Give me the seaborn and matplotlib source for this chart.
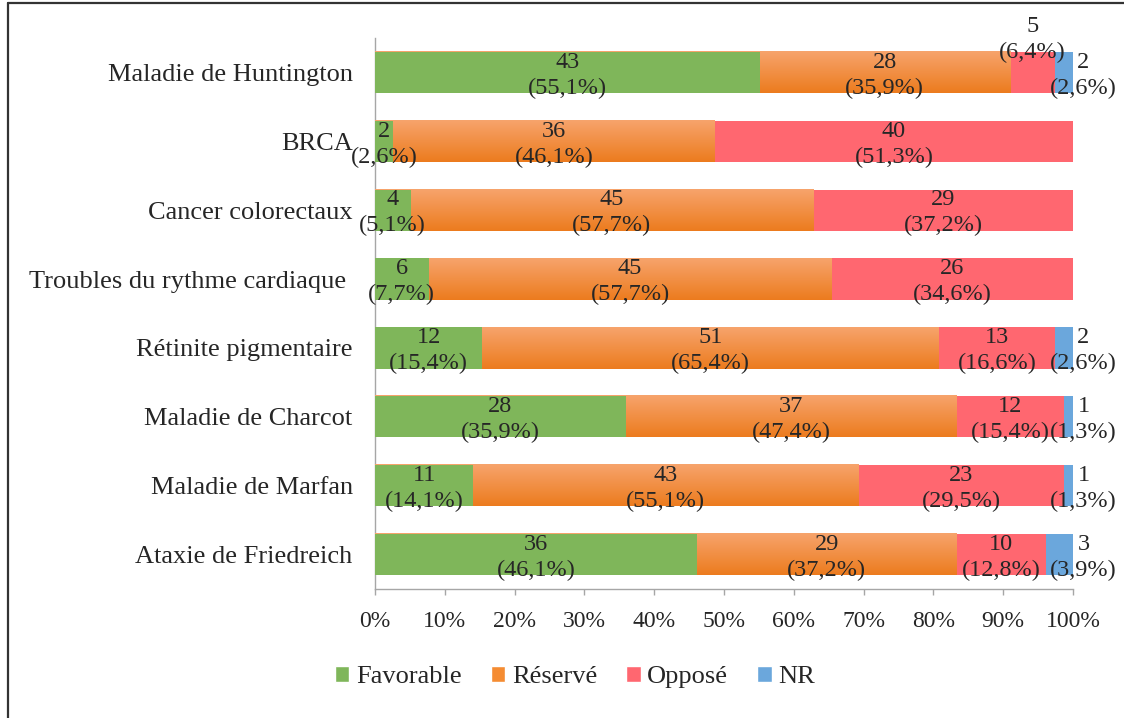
import matplotlib.pyplot as plt
import numpy as np
import pandas as pd
import seaborn as sns
from matplotlib.lines import Line2D
from matplotlib.patches import Patch
from matplotlib.colors import to_rgb

# data (top to bottom)
categories = ['Maladie de Huntington', 'BRCA', 'Cancer colorectaux',
              'Troubles du rythme cardiaque ', 'Rétinite pigmentaire',
              'Maladie de Charcot', 'Maladie de Marfan', 'Ataxie de Friedreich']
favorable = [43, 2, 4, 6, 12, 28, 11, 36]
reserve = [28, 36, 45, 45, 51, 37, 43, 29]
oppose = [5, 40, 29, 26, 13, 12, 23, 10]
nr = [2, 0, 0, 0, 2, 1, 1, 3]
favorable_pct = [55.1, 2.6, 5.1, 7.7, 15.4, 35.9, 14.1, 46.1]
reserve_pct = [35.9, 46.1, 57.7, 57.7, 65.4, 47.4, 55.1, 37.2]
oppose_pct = [6.4, 51.3, 37.2, 34.6, 16.6, 15.4, 29.5, 12.8]
nr_pct = [2.6, 0, 0, 0, 2.6, 1.3, 1.3, 3.9]

series = ['Favorable', 'Réservé', 'Opposé', 'NR']
colors = {'Favorable': '#7FB65A', 'Réservé': '#F58C32',
          'Opposé': '#FF6770', 'NR': '#6BA7DC'}
orange_top, orange_bottom = '#F7A46C', '#EC7B1E'

df = pd.DataFrame({'cat': categories, 'Favorable': favorable, 'Réservé': reserve,
                   'Opposé': oppose, 'NR': nr})
pct = pd.DataFrame({'Favorable': favorable_pct, 'Réservé': reserve_pct,
                    'Opposé': oppose_pct, 'NR': nr_pct})
# bar lengths follow the printed percentages (100 % stacked)
shares = pct[series].div(pct[series].sum(axis=1), axis=0) * 100
cum = shares.cumsum(axis=1)
cum['cat'] = categories

sns.set_theme(style='white')
plt.rcParams['font.family'] = ['Liberation Serif', 'DejaVu Serif']

fig, ax = plt.subplots(figsize=(11.24, 7.18), dpi=100)
fig.subplots_adjust(left=0.3336, right=0.9546, top=0.9471, bottom=0.1797)

# stacked bars: draw cumulative totals from the last series to the first
for i, s in reversed(list(enumerate(series))):
    n0 = len(ax.patches)
    sns.barplot(data=cum, x=s, y='cat', orient='h', color=colors[s], saturation=1,
                width=0.6, errorbar=None, linewidth=0, ax=ax, zorder=10 - 2 * i)
    if s == 'Réservé':
        grad = np.linspace(to_rgb(orange_top), to_rgb(orange_bottom), 64)[:, None, :]
        for p in ax.patches[n0:]:
            x0, y0, w, h = p.get_x(), p.get_y(), p.get_width(), p.get_height()
            ax.imshow(grad, extent=[x0, x0 + w, y0 + h, y0], origin='upper',
                      aspect='auto', zorder=10 - 2 * i + 0.5, interpolation='bilinear')

ax.set_xlim(0, 100)
ax.set_ylim(len(categories) - 0.5, -0.5)

# value labels
for r in range(len(categories)):
    for s in series:
        n = df.loc[r, s]
        if n == 0:
            continue
        x = cum.loc[r, s] - shares.loc[r, s] / 2
        y = r + 0.04
        if s == 'NR':
            x = 101.5
        if r == 0 and s == 'Opposé':
            y -= 0.52
        label = f"{n}\n({pct.loc[r, s]:.1f}%)".replace('.', ',')
        ax.text(x, y, label, ha='center', va='center', fontsize=17.5,
                linespacing=1.3, zorder=20, clip_on=False)

ax.set_xticks(range(0, 101, 10))
ax.set_xticklabels([f"{t}%" for t in range(0, 101, 10)])
ax.set_xlabel('')
ax.set_ylabel('')
ax.tick_params(axis='x', direction='out', bottom=True, length=4.5, width=1,
               color='#A6A6A6', pad=11, labelsize=17)
ax.tick_params(axis='y', left=False, length=0, pad=16, labelsize=19)
for side in ['top', 'right']:
    ax.spines[side].set_visible(False)
for side in ['left', 'bottom']:
    ax.spines[side].set_color('#A6A6A6')
    ax.spines[side].set_linewidth(1)

handles = [Patch(facecolor=colors[s], label=s) for s in series]
fig.legend(handles=handles, loc='center', bbox_to_anchor=(0.5116, 0.057), ncol=4,
           frameon=False, fontsize=19, handlelength=0.55, handleheight=0.55,
           handletextpad=0.25, columnspacing=1.1)

# outer frame (left and top edges)
fig.add_artist(Line2D([7.5 / 1124, 7.5 / 1124], [0, 1 - 3 / 718],
                      transform=fig.transFigure, color='#333333', lw=1.6))
fig.add_artist(Line2D([7.5 / 1124, 1], [1 - 3 / 718, 1 - 3 / 718],
                      transform=fig.transFigure, color='#333333', lw=1.6))

fig.savefig('out.png', dpi=100)
